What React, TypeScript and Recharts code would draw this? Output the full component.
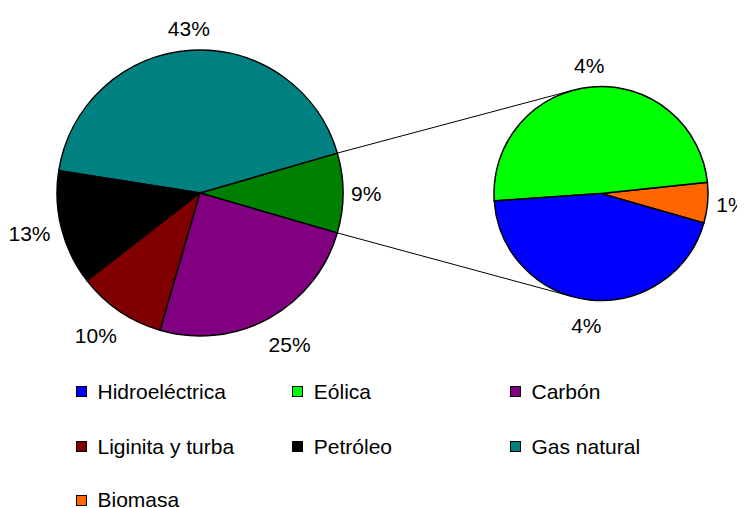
import React from 'react';
import { PieChart, Pie, Cell, Legend, Customized } from 'recharts';

// Main pie (percent of total), counter-clockwise from the "Otras" slice
const mainCategories = ['Otras', 'Gas natural', 'Petróleo', 'Liginita y turba', 'Carbón'];
const mainValues = [9, 43, 13, 10, 25];
const mainColors = ['#008000', '#008080', '#000000', '#800000', '#800080'];

// Secondary pie: breakdown of "Otras"
const subCategories = ['Biomasa', 'Eólica', 'Hidroeléctrica'];
const subValues = [0.55, 4.45, 4.0];
const subColors = ['#FF6600', '#00FF00', '#0000FF'];

// Legend
const legendLabels = ['Hidroeléctrica', 'Eólica', 'Carbón', 'Liginita y turba', 'Petróleo', 'Gas natural', 'Biomasa'];
const legendColors = ['#0000FF', '#00FF00', '#800080', '#800000', '#000000', '#008080', '#FF6600'];

const mainData = mainCategories.map((name, i) => ({ name, value: mainValues[i] }));
const subData = subCategories.map((name, i) => ({ name, value: subValues[i] }));

const W = 737;
const H = 500;
const FONT = '"Liberation Sans", Arial, sans-serif';

const MAIN = { cx: 192, cy: 185, r: 143 };
const SUB = { cx: 593, cy: 185.5, r: 107, start: -16 };

const mainTotal = mainValues.reduce((a, b) => a + b, 0);
const otrasHalf = (mainValues[0] / mainTotal) * 360 / 2;
const mainStart = -otrasHalf;

const RAD = Math.PI / 180;

const makeLabel = (gap: number, extraVert: number, extraBelow: number) => (props: any) => {
  const { cx, cy, midAngle, outerRadius, value } = props;
  const dx = Math.cos(midAngle * RAD);
  const dy = -Math.sin(midAngle * RAD);
  const text = `${Math.round(value)}%`;
  const fs = 21;
  const w = ((text.length - 1) * 0.556 + 0.889) * fs;
  const h = 0.716 * fs;
  const d = outerRadius + gap + extraVert * Math.abs(dy) + extraBelow * Math.max(0, dy);
  const x = cx + d * dx + dx * (w / 2);
  const y = cy + d * dy + dy * (h / 2);
  return (
    <text
      x={x}
      y={y + h / 2}
      textAnchor="middle"
      fill="#000"
      style={{ fontFamily: FONT, fontSize: fs }}
    >
      {text}
    </text>
  );
};

const tangentPoint = (px: number, py: number, upper: boolean) => {
  const vx = SUB.cx - px;
  const vy = SUB.cy - py;
  const D = Math.sqrt(vx * vx + vy * vy);
  const base = Math.atan2(vy, vx);
  const a = Math.asin(SUB.r / D);
  const ang = upper ? base - a : base + a;
  const len = Math.sqrt(D * D - SUB.r * SUB.r);
  return { x: px + len * Math.cos(ang), y: py + len * Math.sin(ang) };
};

const Connectors = () => {
  const p1 = { x: MAIN.cx + MAIN.r * Math.cos(otrasHalf * RAD), y: MAIN.cy - MAIN.r * Math.sin(otrasHalf * RAD) };
  const p2 = { x: MAIN.cx + MAIN.r * Math.cos(-otrasHalf * RAD), y: MAIN.cy - MAIN.r * Math.sin(-otrasHalf * RAD) };
  const t1 = tangentPoint(p1.x, p1.y, true);
  const t2 = tangentPoint(p2.x, p2.y, false);
  return (
    <g>
      <line x1={p1.x} y1={p1.y} x2={t1.x} y2={t1.y} stroke="#000" strokeWidth={1} />
      <line x1={p2.x} y1={p2.y} x2={t2.x} y2={t2.y} stroke="#000" strokeWidth={1} />
    </g>
  );
};

const colX = [68, 284.3, 502];
const rowY = [18.7, 73.7, 127];

const LegendContent = () => (
  <div style={{ position: 'relative', width: W, height: 140, fontFamily: FONT }}>
    {legendLabels.map((label, i) => (
      <div
        key={label}
        style={{
          position: 'absolute',
          left: colX[i % 3],
          top: rowY[Math.floor(i / 3)] - 12,
          height: 24,
          display: 'flex',
          alignItems: 'center',
          whiteSpace: 'nowrap',
        }}
      >
        <span
          style={{
            display: 'inline-block',
            boxSizing: 'border-box',
            width: 11,
            height: 11,
            background: legendColors[i],
            border: '1px solid #000',
            marginRight: 10.5,
          }}
        />
        <span style={{ fontSize: 21, color: '#000', lineHeight: '24px' }}>{label}</span>
      </div>
    ))}
  </div>
);

export default function App() {
  return (
    <div style={{ width: W, height: H }}>
      <PieChart width={W} height={H} margin={{ top: 0, right: 0, bottom: 0, left: 0 }}>
        <Customized component={<Connectors />} />
        <Pie
          data={mainData}
          dataKey="value"
          nameKey="name"
          cx={MAIN.cx}
          cy={MAIN.cy}
          outerRadius={MAIN.r}
          startAngle={mainStart}
          endAngle={mainStart + 360}
          stroke="#000"
          strokeWidth={1.5}
          label={makeLabel(8, 6, 10)}
          labelLine={false}
          isAnimationActive={false}
        >
          {mainData.map((d, i) => (
            <Cell key={d.name} fill={mainColors[i]} />
          ))}
        </Pie>
        <Pie
          data={subData}
          dataKey="value"
          nameKey="name"
          cx={SUB.cx}
          cy={SUB.cy}
          outerRadius={SUB.r}
          startAngle={SUB.start}
          endAngle={SUB.start + 360}
          stroke="#000"
          strokeWidth={1.5}
          label={makeLabel(8, 6, 4)}
          labelLine={false}
          isAnimationActive={false}
        >
          {subData.map((d, i) => (
            <Cell key={d.name} fill={subColors[i]} />
          ))}
        </Pie>
        <Legend
          verticalAlign="bottom"
          content={<LegendContent />}
          wrapperStyle={{ top: 365, left: 0, width: W }}
        />
      </PieChart>
    </div>
  );
}
